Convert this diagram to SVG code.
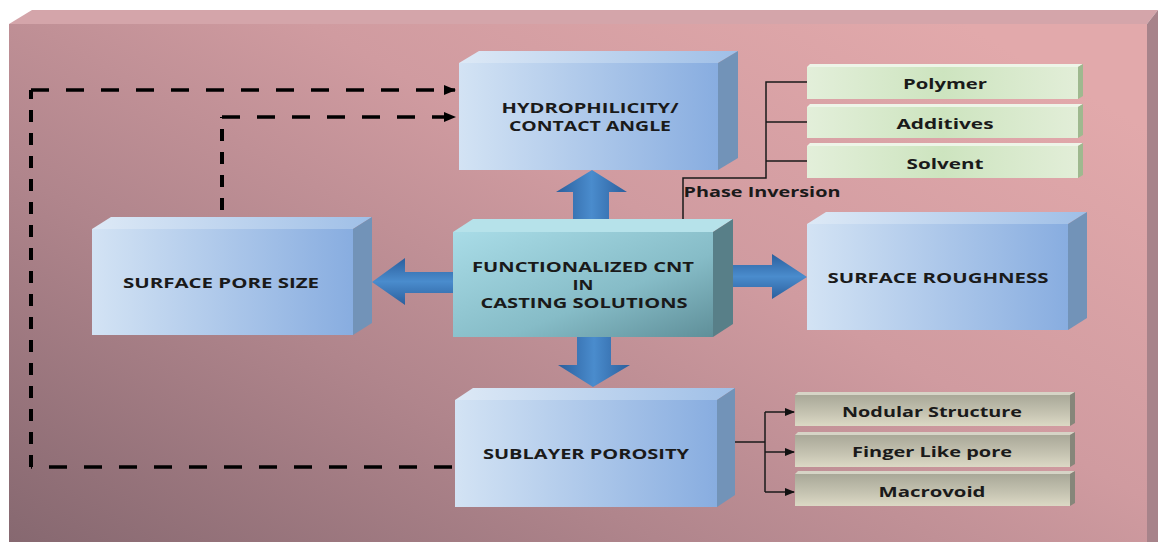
<svg xmlns="http://www.w3.org/2000/svg" width="1158" height="542" viewBox="0 0 1158 542">
<defs>
<linearGradient id="bg" x1="0" y1="1" x2="1" y2="0.2">
<stop offset="0" stop-color="#866870"/>
<stop offset="0.35" stop-color="#b0858c"/>
<stop offset="0.65" stop-color="#d09ba0"/>
<stop offset="1" stop-color="#e2a9ab"/>
</linearGradient>
<linearGradient id="blueFront" x1="0" y1="0" x2="1" y2="0">
<stop offset="0" stop-color="#d3e3f4"/>
<stop offset="1" stop-color="#88ade0"/>
</linearGradient>
<linearGradient id="blueTop" x1="0" y1="0" x2="1" y2="0">
<stop offset="0" stop-color="#dde9f6"/>
<stop offset="1" stop-color="#9fbfe7"/>
</linearGradient>
<linearGradient id="tealFront" x1="0" y1="0" x2="1" y2="1">
<stop offset="0" stop-color="#a9dce7"/>
<stop offset="0.6" stop-color="#86bcc7"/>
<stop offset="1" stop-color="#5f8f99"/>
</linearGradient>
<linearGradient id="greenFront" x1="0" y1="0" x2="1" y2="0">
<stop offset="0" stop-color="#e3efda"/>
<stop offset="0.5" stop-color="#cde4bf"/>
<stop offset="1" stop-color="#e2eed8"/>
</linearGradient>
<linearGradient id="grayFront" x1="0" y1="0" x2="0" y2="1">
<stop offset="0" stop-color="#a9a898"/>
<stop offset="0.6" stop-color="#c6c4b2"/>
<stop offset="1" stop-color="#dcd9c5"/>
</linearGradient>
<linearGradient id="arrowV" x1="0" y1="0" x2="1" y2="0">
<stop offset="0" stop-color="#2b5f9d"/>
<stop offset="0.5" stop-color="#4a8ccd"/>
<stop offset="1" stop-color="#2b5f9d"/>
</linearGradient>
<linearGradient id="arrowH" x1="0" y1="0" x2="0" y2="1">
<stop offset="0" stop-color="#2b5f9d"/>
<stop offset="0.5" stop-color="#4a8ccd"/>
<stop offset="1" stop-color="#2b5f9d"/>
</linearGradient>
<marker id="ah" markerUnits="userSpaceOnUse" markerWidth="12" markerHeight="10" refX="11" refY="5" orient="auto">
<path d="M0,0 L12,5 L0,10 z" fill="#000"/>
</marker>
<marker id="ahs" markerUnits="userSpaceOnUse" markerWidth="10" markerHeight="8" refX="9" refY="4" orient="auto">
<path d="M0,0 L10,4 L0,8 z" fill="#111"/>
</marker>
<style>
.blue-top{fill:url(#blueTop)}
.blue-front{fill:url(#blueFront)}
.blue-side{fill:#7293b8}
.teal-top{fill:#b6e2ea}
.teal-front{fill:url(#tealFront)}
.teal-side{fill:#587f88}
.green-front{fill:url(#greenFront)}
.green-side{fill:#9fb98f}
.green-top{fill:#eef5e8}
.gray-front{fill:url(#grayFront)}
.gray-side{fill:#86867a}
.gray-top{fill:#d6d4c6}
.lbl{font-family:"Open Sans","Noto Sans",sans-serif;font-weight:bold;fill:#1a1a1a;text-anchor:middle;font-size:15px}
.sm{font-size:14px}
.dashH{stroke:#000;stroke-width:3.5;stroke-dasharray:18 17;fill:none}
.dashV{stroke:#000;stroke-width:4;stroke-dasharray:12 11;fill:none}
.thin{stroke:#1a1a1a;stroke-width:1.5;fill:none}
</style>
</defs>

<g id="background">
<rect x="0" y="0" width="1158" height="542" fill="#ffffff"/>
<rect x="9" y="24" width="1138" height="518" fill="url(#bg)"/>
<polygon points="9,24 32,10 1158,10 1147,24" fill="#d4a5aa"/>
<polygon points="1147,24 1158,10 1158,542 1147,542" fill="#a7838a"/>
</g>

<g id="block-arrows">
<polygon points="573,220 573,192 556,192 592,170 627,192 609,192 609,220" fill="url(#arrowV)"/>
<polygon points="577,336 577,365 558,365 593,387 630,365 611,365 611,336" fill="url(#arrowV)"/>
<polygon points="454,272 405,272 405,258 372,282 405,305 405,293 454,293" fill="url(#arrowH)"/>
<polygon points="732,265 772,265 772,254 807,277 772,299 772,287 732,287" fill="url(#arrowH)"/>
</g>

<g id="connectors">
<line class="dashH" x1="452" y1="467" x2="31" y2="467"/>
<line class="dashV" x1="31" y1="467" x2="31" y2="90"/>
<line class="dashH" x1="31" y1="90" x2="455" y2="90" marker-end="url(#ah)"/>
<line class="dashV" x1="222" y1="210" x2="222" y2="117"/>
<line class="dashH" x1="222" y1="117" x2="455" y2="117" marker-end="url(#ah)"/>
<polyline class="thin" points="683,219 683,178 766,178 766,82 807,82"/>
<line class="thin" x1="766" y1="122" x2="807" y2="122"/>
<line class="thin" x1="766" y1="161" x2="807" y2="161"/>
<line class="thin" x1="735" y1="442" x2="765" y2="442"/>
<line class="thin" x1="765" y1="412" x2="765" y2="492"/>
<line class="thin" x1="765" y1="412" x2="794" y2="412" marker-end="url(#ahs)"/>
<line class="thin" x1="765" y1="452" x2="794" y2="452" marker-end="url(#ahs)"/>
<line class="thin" x1="765" y1="492" x2="794" y2="492" marker-end="url(#ahs)"/>
<text class="lbl sm" x="762" y="197" textLength="157" lengthAdjust="spacingAndGlyphs">Phase Inversion</text>
</g>

<g id="node-hydrophilicity">
<polygon class="blue-top" points="459,63 479,51 738,51 718,63"/>
<polygon class="blue-side" points="718,63 738,51 738,158 718,170"/>
<rect class="blue-front" x="459" y="63" width="259" height="107"/>
<text class="lbl" x="590" y="113" textLength="177" lengthAdjust="spacingAndGlyphs">HYDROPHILICITY/</text>
<text class="lbl" x="590" y="131" textLength="162" lengthAdjust="spacingAndGlyphs">CONTACT ANGLE</text>
</g>

<g id="node-pore-size">
<polygon class="blue-top" points="92,229 111,217 372,217 353,229"/>
<polygon class="blue-side" points="353,229 372,217 372,323 353,335"/>
<rect class="blue-front" x="92" y="229" width="261" height="106"/>
<text class="lbl" x="221" y="288" textLength="196" lengthAdjust="spacingAndGlyphs">SURFACE PORE SIZE</text>
</g>

<g id="node-cnt">
<polygon class="teal-top" points="453,232 473,219 733,219 713,232"/>
<polygon class="teal-side" points="713,232 733,219 733,324 713,337"/>
<rect class="teal-front" x="453" y="232" width="260" height="105"/>
<text class="lbl" x="583" y="272" textLength="222" lengthAdjust="spacingAndGlyphs">FUNCTIONALIZED CNT</text>
<text class="lbl" x="583" y="290" textLength="21" lengthAdjust="spacingAndGlyphs">IN</text>
<text class="lbl" x="584" y="308" textLength="207" lengthAdjust="spacingAndGlyphs">CASTING SOLUTIONS</text>
</g>

<g id="node-roughness">
<polygon class="blue-top" points="807,224 826,212 1087,212 1068,224"/>
<polygon class="blue-side" points="1068,224 1087,212 1087,318 1068,330"/>
<rect class="blue-front" x="807" y="224" width="261" height="106"/>
<text class="lbl" x="938" y="283" textLength="221" lengthAdjust="spacingAndGlyphs">SURFACE ROUGHNESS</text>
</g>

<g id="node-sublayer">
<polygon class="blue-top" points="455,400 473,388 735,388 717,400"/>
<polygon class="blue-side" points="717,400 735,388 735,495 717,507"/>
<rect class="blue-front" x="455" y="400" width="262" height="107"/>
<text class="lbl" x="586" y="459" textLength="206" lengthAdjust="spacingAndGlyphs">SUBLAYER POROSITY</text>
</g>

<g id="node-polymer">
<polygon class="green-top" points="807,67 810,64 1083,64 1078,67"/>
<polygon class="green-side" points="1078,67 1083,64 1083,96 1078,99"/>
<rect class="green-front" x="807" y="67" width="271" height="32"/>
<text class="lbl" x="945" y="89" textLength="84" lengthAdjust="spacingAndGlyphs">Polymer</text>
</g>
<g id="node-additives">
<polygon class="green-top" points="807,107 810,104 1083,104 1078,107"/>
<polygon class="green-side" points="1078,107 1083,104 1083,135 1078,138"/>
<rect class="green-front" x="807" y="107" width="271" height="31"/>
<text class="lbl" x="945" y="129" textLength="97" lengthAdjust="spacingAndGlyphs">Additives</text>
</g>
<g id="node-solvent">
<polygon class="green-top" points="807,146 810,143 1083,143 1078,146"/>
<polygon class="green-side" points="1078,146 1083,143 1083,175 1078,178"/>
<rect class="green-front" x="807" y="146" width="271" height="32"/>
<text class="lbl" x="945" y="169" textLength="77" lengthAdjust="spacingAndGlyphs">Solvent</text>
</g>

<g id="node-nodular">
<polygon class="gray-top" points="795,395 798,392 1075,392 1070,395"/>
<polygon class="gray-side" points="1070,395 1075,392 1075,423 1070,426"/>
<rect class="gray-front" x="795" y="395" width="275" height="31"/>
<text class="lbl" x="932" y="417" textLength="180" lengthAdjust="spacingAndGlyphs">Nodular Structure</text>
</g>
<g id="node-finger">
<polygon class="gray-top" points="795,435 798,432 1075,432 1070,435"/>
<polygon class="gray-side" points="1070,435 1075,432 1075,464 1070,467"/>
<rect class="gray-front" x="795" y="435" width="275" height="32"/>
<text class="lbl" x="932" y="457" textLength="160" lengthAdjust="spacingAndGlyphs">Finger Like pore</text>
</g>
<g id="node-macrovoid">
<polygon class="gray-top" points="795,474 798,471 1075,471 1070,474"/>
<polygon class="gray-side" points="1070,474 1075,471 1075,503 1070,506"/>
<rect class="gray-front" x="795" y="474" width="275" height="32"/>
<text class="lbl" x="932" y="497" textLength="107" lengthAdjust="spacingAndGlyphs">Macrovoid</text>
</g>
</svg>
